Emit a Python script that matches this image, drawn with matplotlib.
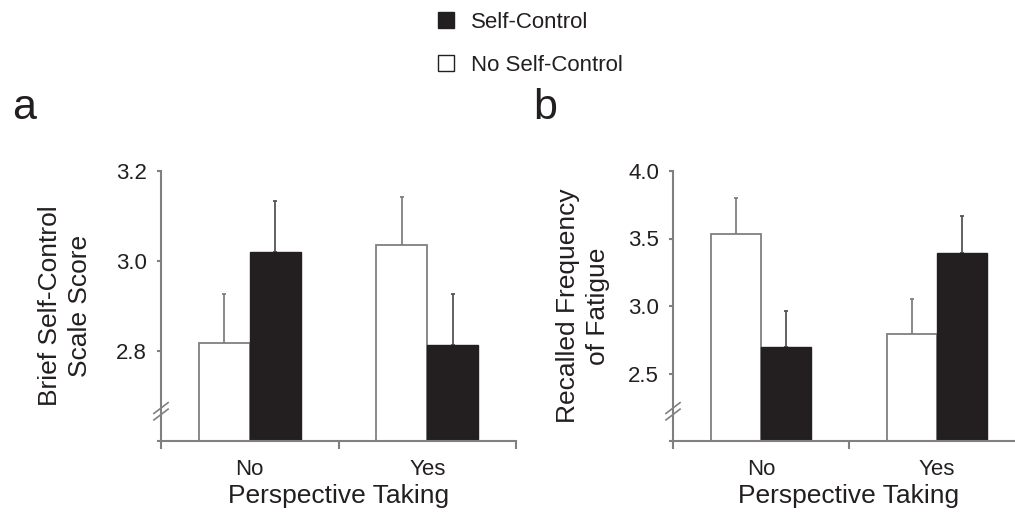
import numpy as np
import matplotlib
matplotlib.use('Agg')
import matplotlib.pyplot as plt
from matplotlib.patches import Patch

plt.rcParams['font.family'] = ['Liberation Sans', 'DejaVu Sans']

groups = ['No', 'Yes']

# panel a: Brief Self-Control Scale score
bscs_self = [3.019, 2.813]
bscs_self_err = [0.114, 0.114]
bscs_noself = [2.818, 3.036]
bscs_noself_err = [0.109, 0.107]

# panel b: recalled frequency of fatigue
fat_self = [2.70, 3.389]
fat_self_err = [0.26, 0.274]
fat_noself = [3.534, 2.796]
fat_noself_err = [0.266, 0.254]

ink = '#231f20'
gray = '#808080'

fig = plt.figure(figsize=(10.15, 5.13), dpi=100)
ax_a = fig.add_axes([161/1015, 72/513, 355/1015, 270/513])
ax_b = fig.add_axes([673/1015, 72/513, 352/1015, 270/513])


def draw_panel(ax, self_vals, self_err, noself_vals, noself_err, ylim, yticks, ylabels, ylabel):
    x = np.arange(len(groups))
    w = 0.286
    lo = ylim[0]
    ax.bar(x - w/2, np.array(noself_vals) - lo, w, bottom=lo, color='white',
           edgecolor=gray, linewidth=1.3, zorder=2)
    ax.bar(x + w/2, np.array(self_vals) - lo, w, bottom=lo, color=ink,
           edgecolor=ink, linewidth=1.0, zorder=2)
    ax.errorbar(x - w/2, noself_vals, yerr=[np.zeros(2), noself_err], fmt='none',
                ecolor=gray, elinewidth=1.3, capsize=1.5, capthick=1.3, zorder=1)
    ax.errorbar(x + w/2, self_vals, yerr=[np.zeros(2), self_err], fmt='none',
                ecolor='#555555', elinewidth=1.3, capsize=1.5, capthick=1.3, zorder=1)

    ax.set_xlim(-0.5, 1.5)
    ax.set_ylim(*ylim)
    for s in ['top', 'right']:
        ax.spines[s].set_visible(False)
    for s in ['left', 'bottom']:
        ax.spines[s].set_color(gray)
        ax.spines[s].set_linewidth(1.5)

    ax.set_xticks(x)
    ax.set_xticklabels(groups)
    ax.set_xticks([-0.5, 0.5, 1.5], minor=True)
    ax.tick_params(axis='x', which='major', length=0, pad=13, labelsize=16, labelcolor=ink)
    ax.tick_params(axis='x', which='minor', length=6, width=1.5, color=gray, direction='out')

    ax.set_yticks(yticks)
    ax.set_yticklabels(ylabels)
    ax.tick_params(axis='y', length=3, width=1.5, color=gray, pad=7, labelsize=16, labelcolor=ink)

    ax.set_xlabel('Perspective Taking', fontsize=19, color=ink, labelpad=3)
    ax.set_ylabel(ylabel, fontsize=19, color=ink, linespacing=1.3)

    # axis break marks
    for dy in (-0.012, 0.012):
        ax.plot([-0.02, 0.02], [0.11 + dy - 0.02, 0.11 + dy + 0.02], transform=ax.transAxes,
                color=gray, lw=1.2, clip_on=False, zorder=5)


draw_panel(ax_a, bscs_self, bscs_self_err, bscs_noself, bscs_noself_err,
           (2.6, 3.2), [2.6, 2.8, 3.0, 3.2], ['', '2.8', '3.0', '3.2'],
           'Brief Self-Control\nScale Score')
ax_a.yaxis.set_label_coords(-0.195, 0.5)

draw_panel(ax_b, fat_self, fat_self_err, fat_noself, fat_noself_err,
           (2.0, 4.0), [2.0, 2.5, 3.0, 3.5, 4.0], ['', '2.5', '3.0', '3.5', '4.0'],
           'Recalled Frequency\nof Fatigue')
ax_b.yaxis.set_label_coords(-0.18, 0.5)

fig.text(12/1015, 1 - 119/513, 'a', fontsize=31, color=ink, ha='left', va='baseline')
fig.text(533/1015, 1 - 119/513, 'b', fontsize=31, color=ink, ha='left', va='baseline')

handles = [Patch(facecolor=ink, edgecolor=ink, label='Self-Control'),
           Patch(facecolor='white', edgecolor=ink, linewidth=1.0, label='No Self-Control')]
fig.legend(handles=handles, loc='upper left', bbox_to_anchor=(418/1015, 1 + 8/513),
           frameon=False, fontsize=16, handlelength=0.7, handleheight=0.7,
           handletextpad=0.8, labelspacing=0.98, labelcolor=ink)

fig.savefig('out.png', dpi=100)
